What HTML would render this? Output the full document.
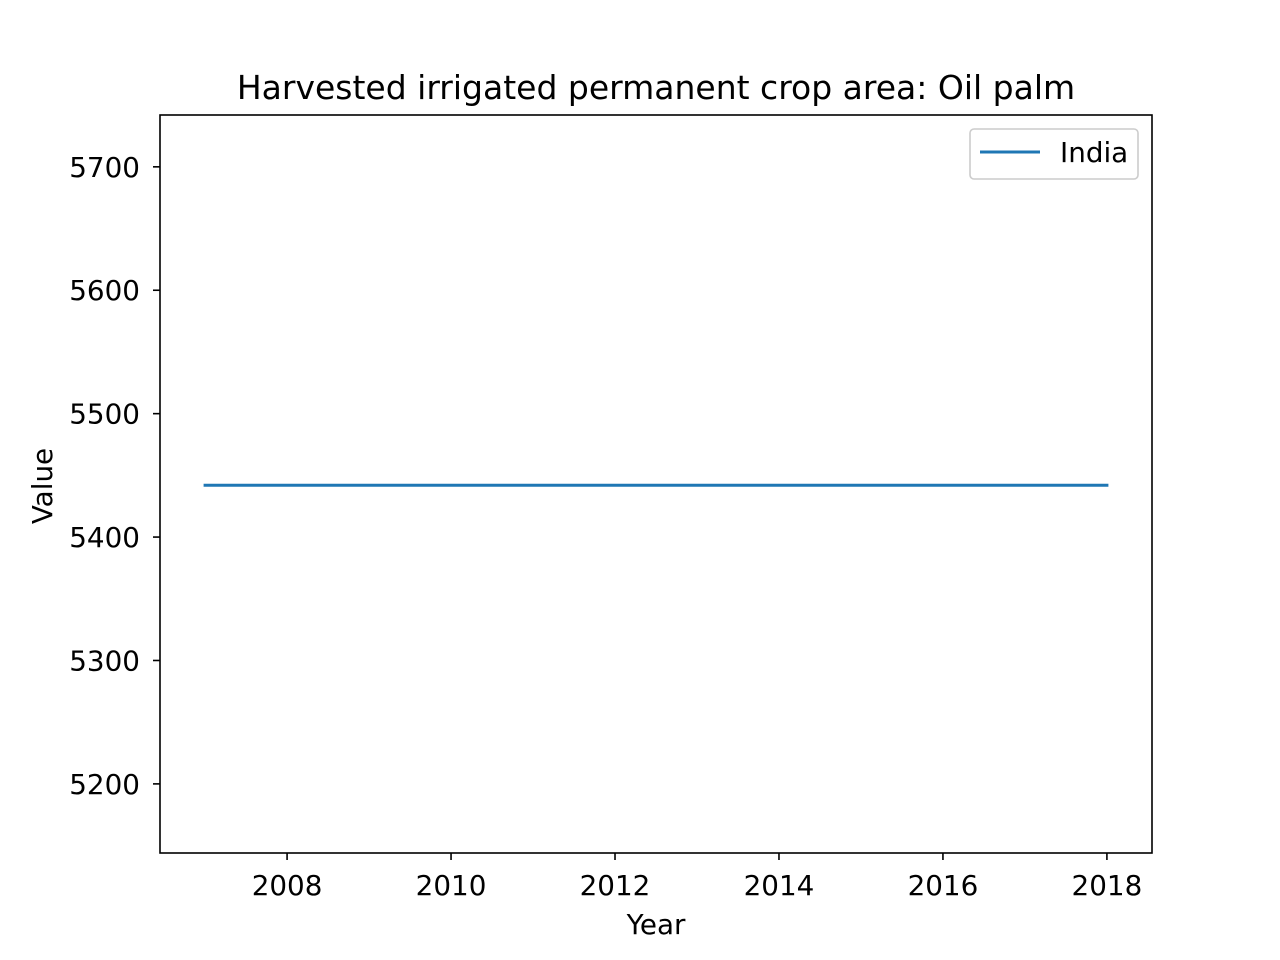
<!DOCTYPE html>
<html><head><meta charset="utf-8"><style>
html,body{margin:0;padding:0;background:#fff;}
svg{display:block;font-family:"DejaVu Sans","Liberation Sans",sans-serif;}
</style></head><body>
<svg id="chart" width="1280" height="960">
<text x="656" y="99" text-anchor="middle" font-size="33">Harvested irrigated permanent crop area: Oil palm</text>
<g id="ticks"></g>
<path id="series" fill="none" stroke="#1f77b4" stroke-width="3" stroke-linecap="square"/>
<rect x="160" y="115" width="992" height="738" fill="none" stroke="#000" stroke-width="1.6"/>
<text x="656" y="934" text-anchor="middle" font-size="27.8">Year</text>
<text transform="translate(52,486) rotate(-90)" text-anchor="middle" font-size="27.8">Value</text>
<g>
<rect x="970" y="129" width="168" height="50" rx="4" fill="#fff" stroke="#ccc" stroke-width="1.6"/>
<line x1="980" y1="152" x2="1040" y2="152" stroke="#1f77b4" stroke-width="3"/>
<text x="1060" y="162" font-size="27.8">India</text>
</g>
</svg>
<script>
const years=[2007,2008,2009,2010,2011,2012,2013,2014,2015,2016,2017,2018];
const values=[5442,5442,5442,5442,5442,5442,5442,5442,5442,5442,5442,5442];
const xTicks=[2008,2010,2012,2014,2016,2018];
const yTicks=[5200,5300,5400,5500,5600,5700];
const xMin=2006.45,xMax=2018.55,yMin=5144,yMax=5742;
function xs(v){return 160+(v-xMin)/(xMax-xMin)*992;}
function ys(v){return 853-(v-yMin)/(yMax-yMin)*738;}
const ns="http://www.w3.org/2000/svg";
const g=document.getElementById('ticks');
xTicks.forEach(t=>{
  const l=document.createElementNS(ns,'line');
  l.setAttribute('x1',xs(t));l.setAttribute('x2',xs(t));l.setAttribute('y1',853);l.setAttribute('y2',860);l.setAttribute('stroke','#000');l.setAttribute('stroke-width','1.6');
  
  
  g.appendChild(l);
  const tx=document.createElementNS(ns,'text');
  tx.setAttribute('x',xs(t));tx.setAttribute('y',895);tx.setAttribute('text-anchor','middle');tx.setAttribute('font-size','27.8');tx.textContent=t;
  
  
  g.appendChild(tx);
});
yTicks.forEach(t=>{
  const l=document.createElementNS(ns,'line');
  l.setAttribute('x1',153);l.setAttribute('x2',160);l.setAttribute('y1',ys(t));l.setAttribute('y2',ys(t));l.setAttribute('stroke','#000');l.setAttribute('stroke-width','1.6');
  
  
  g.appendChild(l);
  const tx=document.createElementNS(ns,'text');
  tx.setAttribute('x',140);tx.setAttribute('y',ys(t)+10);tx.setAttribute('text-anchor','end');tx.setAttribute('font-size','27.8');tx.textContent=t;
  
  
  g.appendChild(tx);
});
document.getElementById('series').setAttribute('d',years.map((y,i)=>(i?'L':'M')+xs(y)+','+ys(values[i])).join(' '));
</script>
</body></html>
